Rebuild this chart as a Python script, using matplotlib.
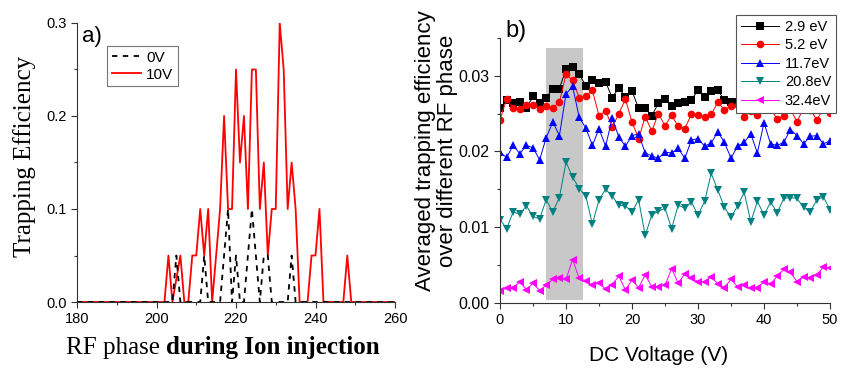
import matplotlib
matplotlib.use("Agg")
import matplotlib.pyplot as plt
from matplotlib.ticker import MultipleLocator, FormatStrFormatter
import numpy as np

# ---------------- Panel a data ----------------
phase_10v = list(range(180, 261))
eff_10v = ([0.0] * 23 +                       # 180..202
           [0.05, 0.0, 0.025, 0.05, 0.0, 0.0,   # 203..208
            0.05, 0.05, 0.1, 0.05, 0.1, 0.0,    # 209..214
            0.05, 0.1, 0.2, 0.1, 0.1, 0.25,     # 215..220
            0.15, 0.2, 0.1, 0.25, 0.25, 0.1,    # 221..226
            0.15, 0.05, 0.1, 0.1, 0.3, 0.25,    # 227..232
            0.1, 0.15, 0.1, 0.0, 0.0, 0.0,      # 233..238
            0.05, 0.05, 0.1, 0.0, 0.0, 0.0,     # 239..244
            0.0, 0.0, 0.0, 0.05, 0.0] +         # 245..249
           [0.0] * 11)                          # 250..260

phase_0v = [180, 204, 205, 206, 211, 212, 213, 216, 217, 218, 219, 220, 221,
            222, 223, 224, 225, 226, 227, 228, 229, 233, 234, 235, 260]
eff_0v = [0.0, 0.0, 0.05, 0.0, 0.0, 0.05, 0.0, 0.0, 0.05, 0.1, 0.0, 0.05, 0.0,
          0.0, 0.05, 0.1, 0.05, 0.0, 0.05, 0.05, 0.0, 0.0, 0.05, 0.0, 0.0]

# ---------------- Panel b data ----------------
dc_voltage = list(range(0, 51))
labels_b = ["2.9 eV", "5.2 eV", "11.7eV", "20.8eV", "32.4eV"]

e_2_9 = [0.0257, 0.0268, 0.0264, 0.0265, 0.0257, 0.0273, 0.0264, 0.0271, 0.0283, 0.0283,
         0.0309, 0.0311, 0.0302, 0.0287, 0.0295, 0.0291, 0.0292, 0.0271, 0.0284, 0.0272,
         0.0280, 0.0257, 0.0257, 0.0247, 0.0264, 0.0269, 0.0260, 0.0264, 0.0266, 0.0268,
         0.0281, 0.0272, 0.0280, 0.0281, 0.0268, 0.0265, 0.0266, 0.0268, 0.0265, 0.0270,
         0.0267, 0.0266, 0.0269, 0.0265, 0.0268, 0.0270, 0.0266, 0.0268, 0.0265, 0.0267,
         0.0268]
e_5_2 = [0.0242, 0.0269, 0.0257, 0.0256, 0.0261, 0.0261, 0.0256, 0.0260, 0.0258, 0.0265,
         0.0302, 0.0294, 0.0271, 0.0273, 0.0281, 0.0247, 0.0254, 0.0232, 0.0250, 0.0269,
         0.0239, 0.0217, 0.0246, 0.0227, 0.0250, 0.0234, 0.0248, 0.0233, 0.0230, 0.0249,
         0.0248, 0.0246, 0.0249, 0.0265, 0.0255, 0.0260, 0.0262, 0.0245, 0.0253, 0.0248,
         0.0260, 0.0256, 0.0243, 0.0247, 0.0256, 0.0239, 0.0258, 0.0255, 0.0242, 0.0256,
         0.0251]
e_11_7 = [0.0199, 0.0192, 0.0208, 0.0197, 0.0208, 0.0205, 0.0189, 0.0218, 0.0239, 0.0221,
          0.0276, 0.0286, 0.0245, 0.0231, 0.0208, 0.0230, 0.0207, 0.0244, 0.0219, 0.0207,
          0.0221, 0.0223, 0.0198, 0.0194, 0.0191, 0.0199, 0.0198, 0.0204, 0.0191, 0.0215,
          0.0217, 0.0207, 0.0211, 0.0226, 0.0212, 0.0191, 0.0207, 0.0212, 0.0223, 0.0198,
          0.0238, 0.0210, 0.0208, 0.0212, 0.0229, 0.0221, 0.0210, 0.0220, 0.0221, 0.0210,
          0.0214]
e_20_8 = [0.0110, 0.0098, 0.0120, 0.0117, 0.0128, 0.0114, 0.0111, 0.0136, 0.0120, 0.0139,
          0.0186, 0.0166, 0.0151, 0.0141, 0.0104, 0.0136, 0.0150, 0.0141, 0.0129, 0.0128,
          0.0120, 0.0136, 0.0089, 0.0116, 0.0121, 0.0125, 0.0098, 0.0129, 0.0125, 0.0133,
          0.0116, 0.0134, 0.0171, 0.0149, 0.0126, 0.0113, 0.0128, 0.0146, 0.0107, 0.0134,
          0.0116, 0.0133, 0.0119, 0.0138, 0.0139, 0.0138, 0.0126, 0.0120, 0.0136, 0.0140,
          0.0123]
e_32_4 = [0.0016, 0.0019, 0.0019, 0.0028, 0.0017, 0.0026, 0.0016, 0.0023, 0.0031, 0.0032,
          0.0031, 0.0057, 0.0032, 0.0029, 0.0023, 0.0026, 0.0018, 0.0024, 0.0035, 0.0017,
          0.0030, 0.0020, 0.0037, 0.0021, 0.0021, 0.0023, 0.0045, 0.0026, 0.0038, 0.0032,
          0.0028, 0.0028, 0.0034, 0.0025, 0.0020, 0.0031, 0.0021, 0.0023, 0.0019, 0.0019,
          0.0028, 0.0025, 0.0035, 0.0044, 0.0040, 0.0028, 0.0034, 0.0032, 0.0037, 0.0047,
          0.0046]
series_b = [e_2_9, e_5_2, e_11_7, e_20_8, e_32_4]
colors_b = ["#000000", "#ff0000", "#0000ff", "#008080", "#ff00ff"]
markers_b = ["s", "o", "^", "v", "<"]

shade_x = [7, 12.5]
shade_y = [0.0003, 0.0337]

SANS = ["Liberation Sans", "DejaVu Sans"]
SERIF = ["Liberation Serif", "DejaVu Serif"]
plt.rcParams["font.family"] = SANS

fig = plt.figure(figsize=(8.41, 3.68), dpi=100)

# ---------------- Panel a ----------------
axa = fig.add_axes([77 / 841, 1 - 302 / 368, 318 / 841, 279 / 368])
axa.plot(phase_0v, eff_0v, color="black", lw=1.3, ls=(0, (3, 3)), label="0V", zorder=3)
axa.plot(phase_10v, eff_10v, color="#ff0000", lw=1.3, label="10V", zorder=2)
axa.set_xlim(180, 260)
axa.set_ylim(0, 0.3)
axa.xaxis.set_major_locator(MultipleLocator(20))
axa.xaxis.set_minor_locator(MultipleLocator(10))
axa.yaxis.set_major_locator(MultipleLocator(0.1))
axa.yaxis.set_minor_locator(MultipleLocator(0.05))
axa.yaxis.set_major_formatter(FormatStrFormatter("%.1f"))
for s in ["top", "right"]:
    axa.spines[s].set_visible(False)
for s in ["left", "bottom"]:
    axa.spines[s].set_color("#333333")
axa.tick_params(which="major", direction="out", length=4, width=0.8, labelsize=10.5,
                colors="#333333", labelcolor="black")
axa.tick_params(which="minor", direction="out", length=2.5, width=0.8, colors="#333333")
axa.set_ylabel("Trapping Efficiency", family=SERIF, fontsize=18)
axa.yaxis.set_label_coords(-0.13, 0.52)
axa.text(0.015, 0.99, "a)", transform=axa.transAxes, fontsize=16, va="top", ha="left")
leg = axa.legend(loc="upper left", bbox_to_anchor=(107 / 841, 1 - 46 / 368),
                 bbox_transform=fig.transFigure, fontsize=11, frameon=True,
                 fancybox=False, handlelength=1.9, borderpad=0.3, labelspacing=0.2,
                 handletextpad=0.35, borderaxespad=0)
leg.get_frame().set_edgecolor("#555555")
leg.get_frame().set_linewidth(0.8)

t1 = fig.text(66 / 841, 1 - 354 / 368, "RF phase ", family=SERIF, fontsize=18,
              va="baseline", ha="left")
axa.annotate("during Ion injection", xy=(1, 0), xycoords=t1, va="bottom", ha="left",
             family=SERIF, fontsize=18, fontweight="bold", annotation_clip=False)

# ---------------- Panel b ----------------
axb = fig.add_axes([500 / 841, 1 - 302.7 / 368, 330 / 841, 264.7 / 368])
axb.fill_between(shade_x, shade_y[0], shade_y[1], color="#c8c8c8", lw=0, zorder=0)
for ys, c, m, lab in zip(series_b, colors_b, markers_b, labels_b):
    axb.plot(dc_voltage, ys, color=c, marker=m, markersize=5.5, lw=0.7, label=lab,
             markeredgewidth=0, zorder=2)
axb.set_xlim(0, 50)
axb.set_ylim(0, 0.035)
axb.xaxis.set_major_locator(MultipleLocator(10))
axb.xaxis.set_minor_locator(MultipleLocator(5))
axb.yaxis.set_major_locator(MultipleLocator(0.01))
axb.yaxis.set_minor_locator(MultipleLocator(0.005))
axb.yaxis.set_major_formatter(FormatStrFormatter("%.2f"))
for s in ["top", "right"]:
    axb.spines[s].set_visible(False)
for s in ["left", "bottom"]:
    axb.spines[s].set_color("#333333")
axb.tick_params(which="major", direction="out", length=4, width=0.8, labelsize=10.5,
                colors="#333333", labelcolor="black")
axb.tick_params(axis="y", which="major", labelsize=11.5)
axb.tick_params(which="minor", direction="out", length=2.5, width=0.8, colors="#333333")
axb.set_xlabel("DC Voltage (V)", fontsize=15)
axb.xaxis.set_label_coords(0.48, -0.165)
axb.set_ylabel("Averaged trapping efficiency\nover different RF phase", fontsize=16,
               linespacing=1.05)
axb.yaxis.set_label_coords(-0.127, 0.575)
axb.text(0.015, 1.025, "b)", transform=axb.transAxes, fontsize=17, va="center", ha="left")
legb = axb.legend(loc="upper left", bbox_to_anchor=(736 / 841, 1 - 15 / 368),
                  bbox_transform=fig.transFigure, fontsize=10.5, frameon=True,
                  fancybox=False, handlelength=2.6, borderpad=0.35, labelspacing=0.3,
                  handletextpad=0.4, borderaxespad=0, framealpha=1)
legb.get_frame().set_edgecolor("#555555")
legb.get_frame().set_linewidth(0.8)
legb.set_zorder(5)

fig.savefig("out.png", dpi=100)
